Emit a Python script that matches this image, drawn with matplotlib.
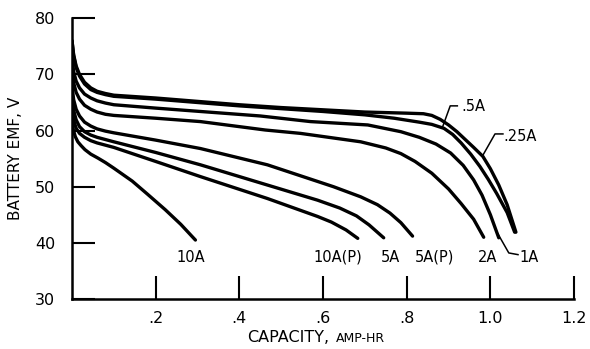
import matplotlib
matplotlib.use("Agg")
import matplotlib.pyplot as plt

plt.rcParams['font.family'] = ['DejaVu Sans']

# discharge curves: capacity (amp-hr) vs battery emf (V)
x_025 = [0, 0.004, 0.01, 0.018, 0.03, 0.045, 0.06, 0.08, 0.1, 0.2, 0.3, 0.4, 0.5, 0.6, 0.7, 0.8, 0.84, 0.86, 0.88, 0.9, 0.92, 0.94, 0.96, 0.982, 1.0, 1.02, 1.04, 1.061]
y_025 = [76, 73.5, 71.5, 70, 68.6, 67.6, 67, 66.6, 66.3, 65.8, 65.2, 64.6, 64.1, 63.7, 63.3, 63.1, 63.0, 62.7, 62.0, 61.0, 59.8, 58.4, 57.0, 55.4, 53.2, 50.3, 46.8, 41.9]

x_05 = [0, 0.004, 0.01, 0.018, 0.03, 0.045, 0.06, 0.08, 0.1, 0.2, 0.3, 0.4, 0.5, 0.6, 0.7, 0.77, 0.83, 0.86, 0.889, 0.91, 0.93, 0.953, 0.975, 0.995, 1.015, 1.04, 1.058]
y_05 = [76, 73.3, 71.2, 69.7, 68.3, 67.3, 66.8, 66.4, 66.1, 65.6, 65.0, 64.4, 63.9, 63.4, 62.8, 62.2, 61.5, 61.1, 60.4, 59.3, 57.8, 55.8, 53.6, 51.3, 48.8, 45.4, 41.9]

x_1 = [0, 0.004, 0.01, 0.018, 0.03, 0.045, 0.06, 0.08, 0.1, 0.2, 0.307, 0.45, 0.57, 0.707, 0.786, 0.83, 0.87, 0.905, 0.935, 0.96, 0.98, 1.0, 1.02]
y_1 = [73, 70.5, 68.8, 67.6, 66.5, 65.8, 65.3, 64.9, 64.6, 64.0, 63.4, 62.6, 61.6, 61.0, 59.8, 58.8, 57.6, 56.0, 53.8, 51.2, 48.5, 45.0, 40.9]

x_2 = [0, 0.004, 0.01, 0.018, 0.03, 0.045, 0.06, 0.08, 0.1, 0.2, 0.307, 0.462, 0.546, 0.69, 0.75, 0.786, 0.82, 0.86, 0.9, 0.93, 0.96, 0.984]
y_2 = [71, 68.5, 66.8, 65.6, 64.5, 63.8, 63.3, 62.9, 62.7, 62.2, 61.6, 60.1, 59.5, 58.0, 56.9, 55.9, 54.5, 52.4, 49.6, 47.0, 44.2, 41.0]

x_5p = [0, 0.004, 0.01, 0.018, 0.03, 0.045, 0.06, 0.08, 0.1, 0.2, 0.307, 0.467, 0.625, 0.69, 0.73, 0.76, 0.786, 0.814]
y_5p = [68, 65.5, 63.8, 62.6, 61.5, 60.8, 60.3, 59.9, 59.6, 58.3, 56.8, 53.9, 50.0, 48.2, 46.8, 45.3, 43.6, 41.2]

x_5 = [0, 0.004, 0.01, 0.018, 0.03, 0.045, 0.06, 0.08, 0.1, 0.2, 0.307, 0.467, 0.587, 0.64, 0.68, 0.71, 0.745]
y_5 = [66, 63.6, 61.9, 60.7, 59.8, 59.2, 58.8, 58.4, 58.0, 56.1, 53.9, 50.3, 47.6, 46.2, 44.8, 43.2, 40.9]

x_10p = [0, 0.004, 0.01, 0.018, 0.03, 0.045, 0.06, 0.08, 0.1, 0.2, 0.307, 0.467, 0.587, 0.62, 0.655, 0.683]
y_10p = [64, 61.8, 60.4, 59.5, 58.8, 58.2, 57.8, 57.4, 57.0, 54.5, 51.8, 47.9, 44.7, 43.7, 42.3, 40.8]

x_10 = [0, 0.003, 0.008, 0.014, 0.022, 0.031, 0.045, 0.062, 0.08, 0.1, 0.144, 0.18, 0.223, 0.26, 0.295]
y_10 = [62, 60.2, 58.9, 58.0, 57.3, 56.6, 55.8, 55.1, 54.3, 53.3, 51.0, 48.7, 45.9, 43.3, 40.5]

curves = [(x_025, y_025), (x_05, y_05), (x_1, y_1), (x_2, y_2),
          (x_5p, y_5p), (x_5, y_5), (x_10p, y_10p), (x_10, y_10)]

# labels under the curve ends
end_labels = ["10A", "10A(P)", "5A", "5A(P)", "2A"]
end_label_x = [0.283, 0.636, 0.762, 0.867, 0.994]

x_ticks = [0.2, 0.4, 0.6, 0.8, 1.0, 1.2]
x_tick_labels = [".2", ".4", ".6", ".8", "1.0", "1.2"]
y_ticks = [30, 40, 50, 60, 70, 80]

fig = plt.figure(figsize=(5.9, 3.49), dpi=100)
ax = fig.add_axes([0.122, 0.1433, 0.851, 0.8043])

for xs, ys in curves:
    ax.plot(xs, ys, color='black', lw=2.4, solid_capstyle='round', solid_joinstyle='round')

ax.set_xlim(0, 1.2)
ax.set_ylim(30, 80)
ax.set_xticks(x_ticks)
ax.set_xticklabels(x_tick_labels)
ax.set_yticks(y_ticks)

for s in ['top', 'right']:
    ax.spines[s].set_visible(False)
for s in ['left', 'bottom']:
    ax.spines[s].set_linewidth(1.8)

ax.tick_params(axis='both', direction='in', length=16.5, width=1.5, labelsize=11.5)
ax.tick_params(axis='y', pad=12)
ax.tick_params(axis='x', pad=9)

for lab, lx in zip(end_labels, end_label_x):
    ax.text(lx, 37.4, lab, ha='center', va='center', fontsize=10.5)

# leaders
ax.plot([0.921, 0.904, 0.885], [64.4, 64.4, 60.5], color='black', lw=1.1)
ax.text(0.931, 64.3, ".5A", ha='left', va='center', fontsize=10.5)
ax.plot([1.030, 1.011, 0.982], [59.4, 59.4, 55.6], color='black', lw=1.1)
ax.text(1.030, 58.9, ".25A", ha='left', va='center', fontsize=10.5)
ax.plot([1.018, 1.044, 1.066], [41.6, 38.2, 37.9], color='black', lw=1.1)
ax.text(1.070, 37.4, "1A", ha='left', va='center', fontsize=10.5)

ax.set_ylabel("BATTERY EMF, V", fontsize=11)
ax.yaxis.set_label_coords(-0.098, 0.5)

fig.text(247 / 590, 1 - 342 / 349, "CAPACITY,", fontsize=11.5, va='baseline')
fig.text(336 / 590, 1 - 342 / 349, "AMP-HR", fontsize=9, va='baseline')

fig.savefig("out.png", dpi=100)
